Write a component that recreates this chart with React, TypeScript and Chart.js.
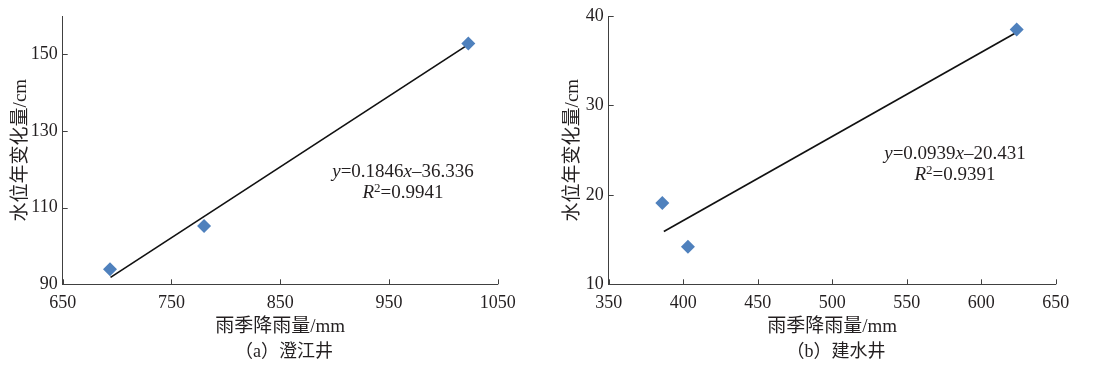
import React, { useEffect, useRef } from 'react';
import { Chart, registerables } from 'chart.js';

Chart.register(...registerables);

// ---- Data: (a) 澄江井
const rainA = [693.5, 780, 1023];
const levelA = [93.9, 105.2, 152.8];
const trendXA = [694, 1021];
const trendYA = [91.8, 152.2];
const xTicksA = [650, 750, 850, 950, 1050];
const yTicksA = [90, 110, 130, 150];

// ---- Data: (b) 建水井
const rainB = [386, 403.2, 623.8];
const levelB = [19.1, 14.2, 38.5];
const trendXB = [387, 623];
const trendYB = [15.9, 38.1];
const xTicksB = [350, 400, 450, 500, 550, 600, 650];
const yTicksB = [10, 20, 30, 40];

const xTitle = '雨季降雨量/mm';
const yTitle = '水位年变化量/cm';

const FONT = '"Liberation Serif", "Noto Sans CJK SC", serif';
const TEXT = '#231f20';
const AXIS = '#404040';
const MARK = '#4F81BD';

const innerTicks = {
  id: 'innerTicks',
  afterDraw(chart: any) {
    const { ctx } = chart;
    const xs = chart.scales.x;
    const ys = chart.scales.y;
    const area = chart.chartArea;
    ctx.save();
    ctx.strokeStyle = AXIS;
    ctx.lineWidth = 1;
    ctx.beginPath();
    xs.ticks.forEach((t: any) => {
      const px = Math.round(xs.getPixelForValue(t.value)) + 0.5;
      ctx.moveTo(px, area.bottom);
      ctx.lineTo(px, area.bottom - 5);
    });
    ys.ticks.forEach((t: any) => {
      const py = Math.round(ys.getPixelForValue(t.value)) + 0.5;
      ctx.moveTo(area.left, py);
      ctx.lineTo(area.left + 5, py);
    });
    ctx.stroke();
    ctx.restore();
  },
};

type Cfg = {
  rain: number[];
  level: number[];
  tx: number[];
  ty: number[];
  xTicks: number[];
  yTicks: number[];
  xMin: number;
  xMax: number;
  yMin: number;
  yMax: number;
  padLeft: number;
  yWidth: number;
  padRight: number;
};

function Scatter({ cfg, width }: { cfg: Cfg; width: number }) {
  const ref = useRef<HTMLCanvasElement | null>(null);
  useEffect(() => {
    if (!ref.current) return;
    const chart = new Chart(ref.current, {
      type: 'scatter',
      data: {
        datasets: [
          {
            type: 'scatter',
            data: cfg.rain.map((x, i) => ({ x, y: cfg.level[i] })),
            pointStyle: 'rectRot',
            pointRadius: 7,
            backgroundColor: MARK,
            borderColor: MARK,
            borderWidth: 0,
          },
          {
            type: 'line',
            data: cfg.tx.map((x, i) => ({ x, y: cfg.ty[i] })),
            borderColor: '#111',
            borderWidth: 1.7,
            pointRadius: 0,
            fill: false,
          } as any,
        ],
      },
      options: {
        animation: false,
        responsive: false,
        events: [],
        layout: {
          padding: { left: cfg.padLeft, top: 16, right: cfg.padRight, bottom: 34.4 },
        },
        plugins: {
          legend: { display: false },
          tooltip: { enabled: false },
        },
        scales: {
          x: {
            type: 'linear',
            min: cfg.xMin,
            max: cfg.xMax,
            afterBuildTicks: (s: any) => {
              s.ticks = cfg.xTicks.map((v) => ({ value: v }));
            },
            afterFit: (s: any) => {
              s.height = 54.3;
            },
            grid: { display: false, drawTicks: false },
            border: { display: true, color: AXIS, width: 1 },
            ticks: {
              color: TEXT,
              font: { family: FONT, size: 18 },
              padding: 8,
              maxRotation: 0,
              autoSkip: false,
              callback: (v: any) => String(v),
            },
            title: {
              display: true,
              text: xTitle,
              color: TEXT,
              font: { family: FONT, size: 19 },
              padding: 0,
            },
          },
          y: {
            type: 'linear',
            min: cfg.yMin,
            max: cfg.yMax,
            afterBuildTicks: (s: any) => {
              s.ticks = cfg.yTicks.map((v) => ({ value: v }));
            },
            afterFit: (s: any) => {
              s.width = cfg.yWidth;
            },
            grid: { display: false, drawTicks: false },
            border: { display: true, color: AXIS, width: 1 },
            ticks: {
              color: TEXT,
              font: { family: FONT, size: 18 },
              padding: 5,
              autoSkip: false,
              callback: (v: any) => String(v),
            },
            title: {
              display: true,
              text: yTitle,
              color: TEXT,
              font: { family: FONT, size: 19 },
              padding: 0,
            },
          },
        },
      },
      plugins: [innerTicks],
    });
    return () => chart.destroy();
  }, [cfg]);
  return <canvas ref={ref} width={width} height={373} style={{ display: 'block', width, height: 373 }} />;
}

const cfgA: Cfg = {
  rain: rainA,
  level: levelA,
  tx: trendXA,
  ty: trendYA,
  xTicks: xTicksA,
  yTicks: yTicksA,
  xMin: 650,
  xMax: 1050,
  yMin: 90,
  yMax: 160,
  padLeft: 10,
  yWidth: 52.7,
  padRight: 52.3,
};

const cfgB: Cfg = {
  rain: rainB,
  level: levelB,
  tx: trendXB,
  ty: trendYB,
  xTicks: xTicksB,
  yTicks: yTicksB,
  xMin: 350,
  xMax: 650,
  yMin: 10,
  yMax: 40,
  padLeft: 12,
  yWidth: 46.7,
  padRight: 43.3,
};

const eqStyle: React.CSSProperties = {
  position: 'absolute',
  width: 240,
  textAlign: 'center',
  fontFamily: FONT,
  fontSize: 19,
  lineHeight: '21px',
  color: TEXT,
  whiteSpace: 'nowrap',
};

const supStyle: React.CSSProperties = { fontSize: 13, verticalAlign: 'top', lineHeight: '13px', position: 'relative', top: 0 };

const capStyle: React.CSSProperties = {
  position: 'absolute',
  width: 300,
  textAlign: 'center',
  fontFamily: FONT,
  fontSize: 18,
  lineHeight: '20px',
  color: TEXT,
  whiteSpace: 'nowrap',
};

export default function App() {
  return (
    <div style={{ position: 'absolute', left: 0, top: 0, width: 1099, height: 373, background: '#fff', overflow: 'hidden' }}>
      <div style={{ position: 'absolute', left: 0, top: 0 }}>
        <Scatter cfg={cfgA} width={550} />
      </div>
      <div style={{ position: 'absolute', left: 550, top: 0 }}>
        <Scatter cfg={cfgB} width={549} />
      </div>
      <div style={{ ...eqStyle, left: 403 - 120, top: 160 }}>
        <div>
          <i>y</i>=0.1846<i>x</i>–36.336
        </div>
        <div>
          <i>R</i>
          <span style={supStyle}>2</span>=0.9941
        </div>
      </div>
      <div style={{ ...eqStyle, left: 955 - 120, top: 142 }}>
        <div>
          <i>y</i>=0.0939<i>x</i>–20.431
        </div>
        <div>
          <i>R</i>
          <span style={supStyle}>2</span>=0.9391
        </div>
      </div>
      <div style={{ ...capStyle, left: 284 - 150, top: 341 }}>（a）澄江井</div>
      <div style={{ ...capStyle, left: 836 - 150, top: 341 }}>（b）建水井</div>
    </div>
  );
}
